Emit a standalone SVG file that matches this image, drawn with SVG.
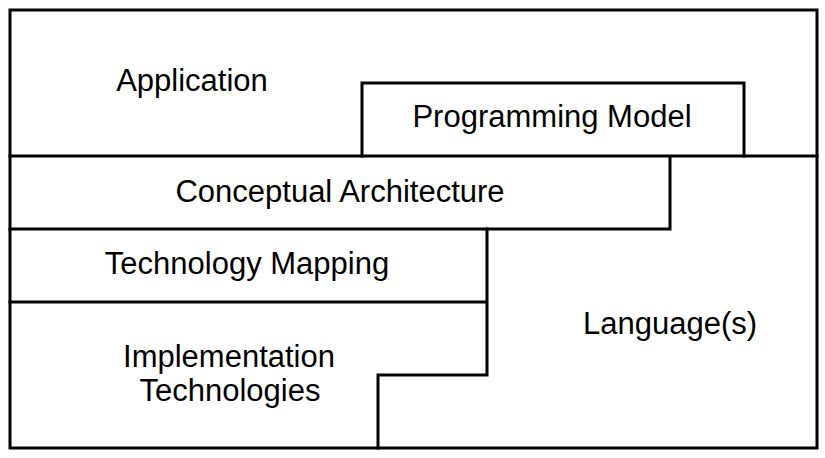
<svg xmlns="http://www.w3.org/2000/svg" width="825" height="458" viewBox="0 0 825 458">
<style>
.ln{fill:none;stroke:#000;stroke-width:3;stroke-linecap:square;stroke-linejoin:miter}
.t{font-family:"Liberation Sans",Arial,sans-serif;font-size:31px;fill:#000;text-anchor:middle}
</style>
<rect x="0" y="0" width="825" height="458" fill="#fff"/>
<g id="application">
<rect class="ln" x="10" y="10" width="807" height="438"/>
<text class="t" x="192" y="91">Application</text>
</g>
<g id="programming-model">
<path class="ln" d="M362,156 V83 H744 V156"/>
<text class="t" x="552" y="127">Programming Model</text>
</g>
<g id="conceptual-architecture">
<path class="ln" d="M10,156 H817 M10,229 H670 V156"/>
<text class="t" x="340" y="202">Conceptual Architecture</text>
</g>
<g id="technology-mapping">
<path class="ln" d="M10,302 H487 M487,229 V375 H378 V448"/>
<text class="t" x="247" y="274">Technology Mapping</text>
</g>
<g id="implementation-technologies">
<text class="t" x="229" y="367">Implementation</text>
<text class="t" x="230" y="401">Technologies</text>
</g>
<g id="languages">
<text class="t" x="670" y="334">Language(s)</text>
</g>
</svg>
